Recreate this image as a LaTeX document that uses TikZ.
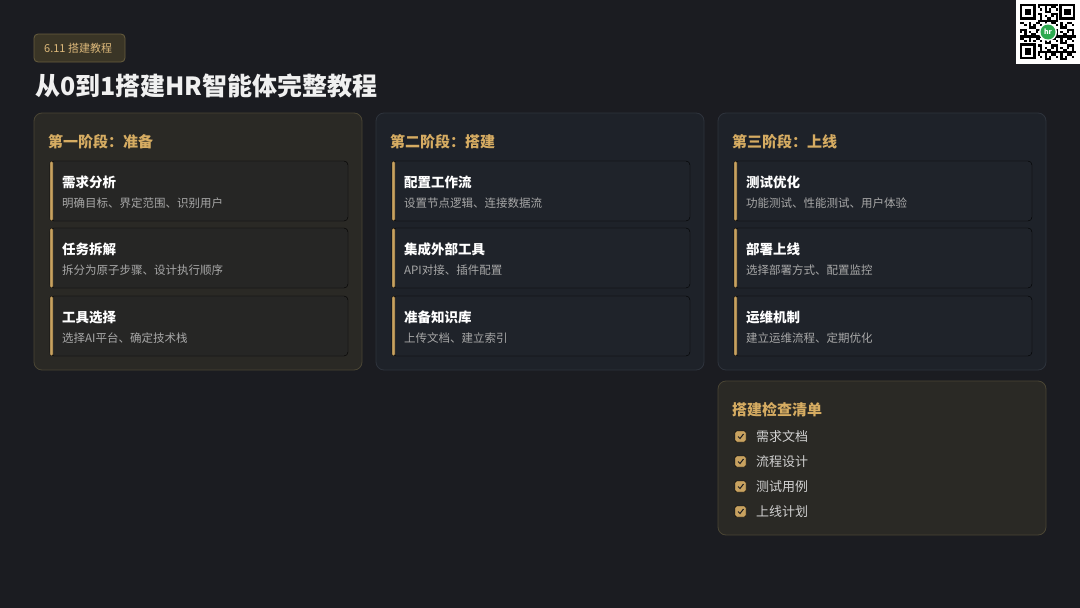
\documentclass[tikz,border=0pt]{standalone}
\usepackage{fontspec}
\setmainfont{Noto Sans CJK SC}
\usetikzlibrary{positioning}

\definecolor{bgcol}{RGB}{27,28,33}
\definecolor{warmfill}{RGB}{42,41,37}
\definecolor{warmline}{RGB}{74,69,52}
\definecolor{coolfill}{RGB}{30,34,41}
\definecolor{coolline}{RGB}{46,51,60}
\definecolor{warmcard}{RGB}{38,38,37}
\definecolor{coolcard}{RGB}{31,35,42}
\definecolor{gold}{RGB}{214,172,98}
\definecolor{barcol}{RGB}{200,162,96}
\definecolor{subgray}{RGB}{168,168,168}
\definecolor{tagfill}{RGB}{58,53,38}
\definecolor{tagline}{RGB}{104,93,62}
\definecolor{qrgreen}{RGB}{46,170,80}

\tikzset{
  panelwarm/.style={draw=warmline, fill=warmfill, line width=0.8pt, rounded corners=8pt},
  panelcool/.style={draw=coolline, fill=coolfill, line width=0.8pt, rounded corners=8pt},
  cardwarm/.style={fill=warmcard, rounded corners=4pt},
  cardcool/.style={fill=coolcard, rounded corners=4pt},
  goldbar/.style={fill=barcol, rounded corners=1.3pt},
  heading/.style={anchor=west, inner sep=0pt, text=gold, font=\bfseries\fontsize{15}{15}\selectfont},
  cardtitle/.style={anchor=west, inner sep=0pt, text=white, font=\bfseries\fontsize{13.5}{14}\selectfont},
  cardsub/.style={anchor=west, inner sep=0pt, text=subgray, font=\fontsize{11.5}{12}\selectfont},
  checkbox/.style={fill=barcol, rounded corners=1.5pt},
  checktext/.style={anchor=west, inner sep=0pt, text=white!82!black, font=\fontsize{13}{13}\selectfont}
}

\begin{document}
\begin{tikzpicture}[x=1pt,y=-1pt]

	\fill[bgcol] (0,0) rectangle (1080,608);
	\useasboundingbox (0,0) rectangle (1080,608);

	% tag and title
	\draw[draw=tagline, fill=tagfill, line width=0.8pt, rounded corners=4pt] (34,34) rectangle (125,62);
	\node (tag) [anchor=west, inner sep=0pt, text=gold!85!white, font=\fontsize{11}{11}\selectfont] at (44,48) {6.11 搭建教程};
	\node (title) [anchor=west, inner sep=0pt, text=white!94!black, font=\bfseries\fontsize{25}{26}\selectfont] at (35,86) {从0到1搭建HR智能体完整教程};

	% stage one
	\draw[panelwarm] (34,113) rectangle (362,370);
	\node (h1) [heading] at (48,142) {第一阶段：准备};

	\draw[cardwarm] (50,161) rectangle (348,221);
	\draw[goldbar] (50,161) rectangle (53,221);
	\node (a1) [cardtitle] at (62,182) {需求分析};
	\node (a1d) [cardsub] at (62,203) {明确目标、界定范围、识别用户};

	\draw[cardwarm] (50,228) rectangle (348,288);
	\draw[goldbar] (50,228) rectangle (53,288);
	\node (a2) [cardtitle] at (62,249) {任务拆解};
	\node (a2d) [cardsub] at (62,270) {拆分为原子步骤、设计执行顺序};

	\draw[cardwarm] (50,296) rectangle (348,356);
	\draw[goldbar] (50,296) rectangle (53,356);
	\node (a3) [cardtitle] at (62,317) {工具选择};
	\node (a3d) [cardsub] at (62,338) {选择AI平台、确定技术栈};

	% stage two
	\draw[panelcool] (376,113) rectangle (704,370);
	\node (h2) [heading] at (390,142) {第二阶段：搭建};

	\draw[cardcool] (392,161) rectangle (690,221);
	\draw[goldbar] (392,161) rectangle (395,221);
	\node (b1) [cardtitle] at (404,182) {配置工作流};
	\node (b1d) [cardsub] at (404,203) {设置节点逻辑、连接数据流};

	\draw[cardcool] (392,228) rectangle (690,288);
	\draw[goldbar] (392,228) rectangle (395,288);
	\node (b2) [cardtitle] at (404,249) {集成外部工具};
	\node (b2d) [cardsub] at (404,270) {API对接、插件配置};

	\draw[cardcool] (392,296) rectangle (690,356);
	\draw[goldbar] (392,296) rectangle (395,356);
	\node (b3) [cardtitle] at (404,317) {准备知识库};
	\node (b3d) [cardsub] at (404,338) {上传文档、建立索引};

	% stage three
	\draw[panelcool] (718,113) rectangle (1046,370);
	\node (h3) [heading] at (732,142) {第三阶段：上线};

	\draw[cardcool] (734,161) rectangle (1032,221);
	\draw[goldbar] (734,161) rectangle (737,221);
	\node (c1) [cardtitle] at (746,182) {测试优化};
	\node (c1d) [cardsub] at (746,203) {功能测试、性能测试、用户体验};

	\draw[cardcool] (734,228) rectangle (1032,288);
	\draw[goldbar] (734,228) rectangle (737,288);
	\node (c2) [cardtitle] at (746,249) {部署上线};
	\node (c2d) [cardsub] at (746,270) {选择部署方式、配置监控};

	\draw[cardcool] (734,296) rectangle (1032,356);
	\draw[goldbar] (734,296) rectangle (737,356);
	\node (c3) [cardtitle] at (746,317) {运维机制};
	\node (c3d) [cardsub] at (746,338) {建立运维流程、定期优化};

	% checklist
	\draw[panelwarm] (718,381) rectangle (1046,535);
	\node (h4) [heading] at (732,410) {搭建检查清单};

	\draw[checkbox] (735,431) rectangle (746,442);
	\draw[bgcol, line width=1pt] (738,436.5) -- (740,438.5) -- (743.5,434);
	\node (k1) [checktext] at (756,437) {需求文档};

	\draw[checkbox] (735,456) rectangle (746,467);
	\draw[bgcol, line width=1pt] (738,461.5) -- (740,463.5) -- (743.5,459);
	\node (k2) [checktext] at (756,462) {流程设计};

	\draw[checkbox] (735,481) rectangle (746,492);
	\draw[bgcol, line width=1pt] (738,486.5) -- (740,488.5) -- (743.5,484);
	\node (k3) [checktext] at (756,487) {测试用例};

	\draw[checkbox] (735,506) rectangle (746,517);
	\draw[bgcol, line width=1pt] (738,511.5) -- (740,513.5) -- (743.5,509);
	\node (k4) [checktext] at (756,512) {上线计划};

	% qr code
	\fill[white] (1016,0) rectangle (1080,64);
	\foreach \i in {0,...,24}
	  \foreach \j in {0,...,24}{
	    \pgfmathtruncatemacro{\bit}{mod(\i*\i*7+\j*13+\i*\j*5+\j*\j*3,7)<3 ? 1 : 0}
	    \ifnum\bit=1
	      \fill[black] ({1020+\i*2.24},{4+\j*2.24}) rectangle ++(2.24,2.24);
	    \fi
	  }
	\fill[white] (1020,4) rectangle ++(17.9,17.9);
	\fill[white] (1058.1,4) rectangle ++(17.9,17.9);
	\fill[white] (1020,42.1) rectangle ++(17.9,17.9);
	\draw[black, line width=2.24pt] (1021.1,5.1) rectangle ++(13.4,13.4);
	\fill[black] (1024.5,8.5) rectangle ++(6.7,6.7);
	\draw[black, line width=2.24pt] (1060.4,5.1) rectangle ++(13.4,13.4);
	\fill[black] (1063.8,8.5) rectangle ++(6.7,6.7);
	\draw[black, line width=2.24pt] (1021.1,44.4) rectangle ++(13.4,13.4);
	\fill[black] (1024.5,47.8) rectangle ++(6.7,6.7);
	\fill[white] (1048,32) circle (9);
	\fill[qrgreen] (1048,32) circle (7.5);
	\node (qrmark) [inner sep=0pt, text=white, font=\bfseries\fontsize{7}{7}\selectfont] at (1048,32) {hr};

\end{tikzpicture}
\end{document}
